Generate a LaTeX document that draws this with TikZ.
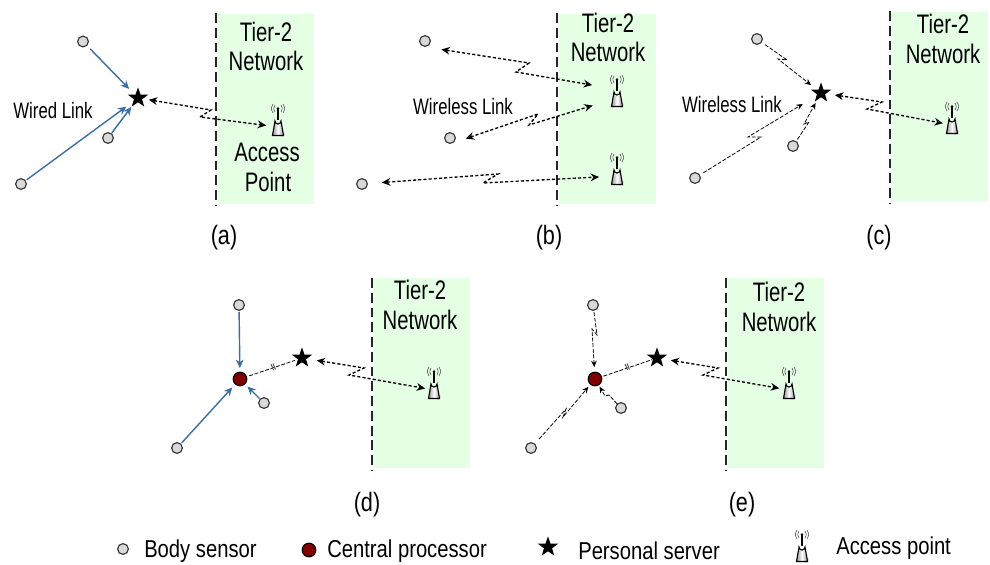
\documentclass[tikz,border=0pt]{standalone}
\usepackage{fontspec}
\setmainfont{Liberation Sans}
\usetikzlibrary{shapes.geometric}
\usetikzlibrary{arrows.meta}

\definecolor{tiergreen}{HTML}{E5FFE5}
\definecolor{wireblue}{HTML}{3B6EA5}
\definecolor{cpured}{HTML}{800000}

\tikzset{
  sensor/.style={circle,draw=black!80,fill=gray!30,line width=0.8pt,inner sep=0pt,minimum size=0.27cm},
  cpu/.style={circle,draw=black,fill=cpured,line width=0.8pt,inner sep=0pt,minimum size=0.34cm},
  server/.style={star,star points=5,star point ratio=2.5,fill=black,inner sep=0pt,minimum size=0.53cm},
  tier/.style={fill=tiergreen,draw=none},
  border/.style={black!85,line width=0.9pt,dash pattern=on 7pt off 3.5pt},
  gapa/.style={shorten <=#1*0.709pt},
  gapb/.style={shorten >=#1*0.709pt},
  wire/.style={wireblue,line width=1pt,>={Stealth[length=6pt,width=5.5pt]}},
  wlink/.style={black,line width=0.95pt,dash pattern=on 2.2pt off 1.5pt,>={Stealth[length=6pt,width=5.5pt]}},
  wthin/.style={black,line width=0.55pt,dash pattern=on 2.8pt off 1.2pt,>={Stealth[length=4.5pt,width=4pt]}},
  bigtxt/.style={font=\fontsize{17}{20}\selectfont,xscale=0.85,yscale=1.12,inner sep=0pt},
  captxt/.style={font=\fontsize{17.5}{20}\selectfont,xscale=0.88,yscale=1.08,inner sep=0pt},
  linktxt/.style={font=\fontsize{14.2}{17}\selectfont,xscale=0.84,yscale=1.12,inner sep=0pt},
  keytxt/.style={font=\fontsize{15.8}{19}\selectfont,xscale=0.91,yscale=1.1,inner sep=0pt},
  tick/.style={gray!70!black,line width=0.7pt},
}

\newcommand{\apoint}[2]{%
  \begin{scope}[shift={(#2)}]
    \fill[gray!25] (3.5,6.5) circle [radius=3.5];
    \draw[line width=0.8pt,left color=gray!80,right color=gray!80,middle color=white] (-5.5,8.5)--(-3,-6) arc (180:0:3)--(5.5,8.5)--cycle;
    \node[inner sep=0pt,minimum width=0.28cm,minimum height=0.42cm] (#1) at (0,0) {};
    \draw[line width=0.8pt] (0,-7)--(0,-18.5);
    \fill (0,-18.5) circle [radius=1.4];
    \draw[black!70,line width=0.4pt] (-3,-22) .. controls (-4.6,-18.5) .. (-3,-15);
    \draw[black!70,line width=0.4pt] (3,-22) .. controls (4.6,-18.5) .. (3,-15);
    \draw[black!70,line width=0.4pt] (-5,-23) .. controls (-7.2,-18.5) .. (-5,-14);
    \draw[black!70,line width=0.4pt] (5,-23) .. controls (7.2,-18.5) .. (5,-14);
  \end{scope}
}

\begin{document}
\begin{tikzpicture}[x=0.025cm,y=-0.025cm]
\useasboundingbox (0,0) rectangle (990,564);

\begin{scope} {
\fill[tier] (217.5,14) rectangle (314,204);
\draw[border] (216,13)--(216,205);

\node[sensor] (a1) at (83,41.5) {};
\node[sensor] (a2) at (108,138) {};
\node[sensor] (a3) at (21,184) {};
\node[server] (astar) at (138,98) {};
\apoint{aap}{278,127}

\draw[wire,->,gapa=10.4,gapb=12.7] (a1.center)--(astar.center);
\draw[wire,->,gapa=6.4,gapb=11.2] (a2.center)--(astar.center);
\draw[wire,->,gapa=7,gapb=14.6] (a3.center)--(astar.center);
\draw[wlink,<->,gapa=11,gapb=12] (astar.center)--(211,110)--(200,117)--(aap.center);

\node[bigtxt] (atier) at (266,32) {Tier-2};
\node[bigtxt] (anet) at (266,61) {Network};
\node[bigtxt] (aacc) at (267,152) {Access};
\node[bigtxt] (apnt) at (268,182) {Point};
\node[linktxt] (awired) at (53,111) {Wired Link};
\node[captxt] (acap) at (224,238) {(a)};
}\end{scope}

\begin{scope} {
\fill[tier] (558.5,14) rectangle (656,204);
\draw[border] (557,13)--(557,205);

\node[sensor] (b1) at (425,41) {};
\node[sensor] (b2) at (450,138) {};
\node[sensor] (b3) at (362,184) {};
\apoint{bap1}{617,98}
\apoint{bap2}{617,176}

\draw[wlink,<->,gapa=16.6,gapb=25.3] (b1.south)--(529,63)--(516,72)--(bap1.north);
\draw[wlink,<->,gapa=16.6,gapb=25.5] (b2.south)--(538,114)--(529,125)--(bap1.center);
\draw[wlink,<->,gapa=20,gapb=18] (b3.center)--(498,174)--(483,183)--(bap2.center);

\node[bigtxt] (btier) at (608,23) {Tier-2};
\node[bigtxt] (bnet) at (608,52) {Network};
\node[linktxt] (bwless) at (463,107) {Wireless Link};
\node[captxt] (bcap) at (549,238) {(b)};
}\end{scope}

\begin{scope} {
\fill[tier] (891,12) rectangle (988,202);
\draw[border] (890,11)--(890,203);

\node[sensor] (c1) at (757,39) {};
\node[sensor] (c2) at (793,146) {};
\node[sensor] (c3) at (695,178) {};
\node[server] (cstar) at (821,93) {};
\apoint{cap}{952,125}

\draw[wthin,->,gapa=9.8,gapb=12.8] (c1.center)--(787,60)--(778,59)--(cstar.center);
\draw[wthin,->,gapa=8,gapb=11.4] (c2.center)--(809,122)--(804,124)--(cstar.center);
\draw[wthin,->,gapa=9.9,gapb=21.4] (c3.center)--(761,137)--(748,137)--(cstar.center);
\draw[wlink,<->,gapa=14,gapb=9.3] (cstar.center)--(882,102)--(867,109)--(cap.center);

\node[bigtxt] (ctier) at (943,24) {Tier-2};
\node[bigtxt] (cnet) at (943,54) {Network};
\node[linktxt] (cwless) at (732,105) {Wireless Link};
\node[captxt] (ccap) at (879,238) {(c)};
}\end{scope}

\begin{scope} {
\fill[tier] (373,278) rectangle (470,468);
\draw[border] (372,278)--(372,470);

\node[sensor] (d1) at (239,305) {};
\node[sensor] (d2) at (264,403) {};
\node[sensor] (d3) at (177,448) {};
\node[cpu] (dcpu) at (240,379) {};
\node[server] (dstar) at (302,358) {};
\apoint{dap}{434,390}

\draw[wire,->,gapa=7,gapb=11] (d1.center)--(dcpu.center);
\draw[wire,->,gapa=6.4,gapb=10.6] (d2.center)--(dcpu.center);
\draw[wire,->,gapa=7,gapb=11.4] (d3.center)--(dcpu.center);
\draw[wthin,gapa=9.8,gapb=7.3] (dcpu.center)--(dstar.center);
\draw[tick] (271,364)--(273.5,370);
\draw[tick] (273,363.5)--(275.5,369.5);
\draw[wlink,<->,gapa=15,gapb=9] (dstar.center)--(364,368)--(349,375)--(dap.center);

\node[bigtxt] (dtier) at (420,290) {Tier-2};
\node[bigtxt] (dnet) at (420,320) {Network};
\node[captxt] (dcap) at (367,505) {(d)};
}\end{scope}

\begin{scope} {
\fill[tier] (727.5,278) rectangle (824,468);
\draw[border] (726,278)--(726,470);

\node[sensor] (e1) at (593,305) {};
\node[sensor] (e2) at (621,408) {};
\node[sensor] (e3) at (531,448) {};
\node[cpu] (ecpu) at (595,379) {};
\node[server] (estar) at (657,358) {};
\apoint{eap}{789,390}

\draw[wthin,->,gapa=7.3,gapb=12] (e1.center)--(597,335)--(592,329)--(ecpu.center);
\draw[wthin,->,gapa=5.7,gapb=9] (e2.center)--(609,395)--(605,396)--(ecpu.center);
\draw[wthin,->,gapa=12.2,gapb=10.3] (e3.center)--(566,409)--(563,417)--(ecpu.center);
\draw[wthin,gapa=8.9,gapb=5] (ecpu.center)--(estar.center);
\draw[tick] (625,364)--(627.5,370);
\draw[tick] (627,363.5)--(629.5,369.5);
\draw[wlink,<->,gapa=14,gapb=10] (estar.center)--(718,368)--(703,375)--(eap.center);

\node[bigtxt] (etier) at (779,292) {Tier-2};
\node[bigtxt] (enet) at (779,322) {Network};
\node[captxt] (ecap) at (742,505) {(e)};
}\end{scope}

\node[sensor] (ksensor) at (123,549) {};
\node[cpu] (kcpu) at (309,550) {};
\node[server] (kstar) at (548,547) {};
\apoint{kap}{802,553}

\node[right,keytxt] (ltxt1) at (144,551) {Body sensor};
\node[right,keytxt] (ltxt2) at (327,551) {Central processor};
\node[right,keytxt] (ltxt3) at (578,551) {Personal server};
\node[right,keytxt] (ltxt4) at (836,548) {Access point};

\end{tikzpicture}
\end{document}
